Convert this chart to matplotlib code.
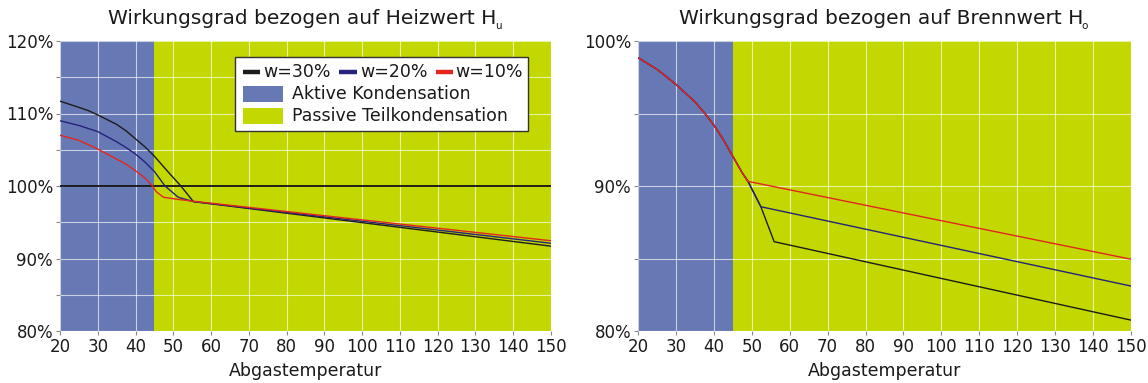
import matplotlib
matplotlib.use("Agg")
import matplotlib.pyplot as plt
from matplotlib.patches import Rectangle
from matplotlib.lines import Line2D
from matplotlib.ticker import MultipleLocator, FuncFormatter
from matplotlib.transforms import offset_copy

# --- data -------------------------------------------------------------
# efficiency related to the net calorific value (Heizwert Hu), in %
hu_t30 = [20, 25, 27.5, 30, 35, 37.5, 40, 42.5, 45, 48.7, 52.0, 55.3, 150]
hu_w30 = [111.7, 110.85, 110.4, 109.8, 108.5, 107.6, 106.5, 105.4, 104.1,
          101.9, 100.0, 97.85, 91.7]
hu_t20 = [20, 25, 30, 35, 37.5, 40, 42.5, 45, 47.8, 51.3, 55.3, 150]
hu_w20 = [109.0, 108.35, 107.5, 106.1, 105.3, 104.4, 103.3, 102.0, 100.0,
          98.45, 97.85, 92.1]
hu_t10 = [20, 25, 30, 35, 37.5, 40, 42.5, 44.5, 45.5, 47.4, 51.3, 55.3, 150]
hu_w10 = [107.0, 106.3, 105.1, 103.7, 103.0, 102.1, 101.1, 100.0, 99.2,
          98.45, 98.15, 97.9, 92.45]

# efficiency related to the gross calorific value (Brennwert Ho), in %
ho_t10 = [20, 25, 30, 35, 37.5, 40, 42.5, 45, 47.5, 49.0, 150]
ho_w10 = [98.85, 98.05, 97.01, 95.81, 95.05, 94.2, 93.2, 92.05, 90.9, 90.32, 84.95]
ho_t20 = [20, 25, 30, 35, 37.5, 40, 42.5, 45, 47.5, 49.0, 52.4, 150]
ho_w20 = [98.85, 98.05, 97.01, 95.81, 95.05, 94.2, 93.2, 92.05, 90.9, 90.32,
          88.57, 83.1]
ho_t30 = [20, 25, 30, 35, 37.5, 40, 42.5, 45, 47.5, 49.0, 52.4, 55.9, 150]
ho_w30 = [98.85, 98.05, 97.01, 95.81, 95.05, 94.2, 93.2, 92.05, 90.9, 90.32,
          88.57, 86.16, 80.75]

series_labels = ["w=30%", "w=20%", "w=10%"]
zone_edges = [20, 45, 150]          # active condensation | passive partial condensation
zone_labels = ["Aktive Kondensation", "Passive Teilkondensation"]
reference_level = 100

x_ticks = list(range(20, 151, 10))

# --- style ------------------------------------------------------------
plt.rcParams["font.family"] = ["DejaVu Sans"]

c_active = "#6679b4"
c_passive = "#c2d800"
c_series = ["#1c1c1c", "#25237a", "#e3261e"]
grid_col = "#ffffff"
text_col = "#1a1a1a"

W, H = 1148, 383
fig = plt.figure(figsize=(W / 100, H / 100), dpi=100)


def px_axes(x0, x1, y0, y1):
    return fig.add_axes([x0 / W, 1 - y1 / H, (x1 - x0) / W, (y1 - y0) / H])


def style_axes(ax, ylim, title, sub):
    ax.set_xlim(zone_edges[0], zone_edges[-1])
    ax.set_ylim(*ylim)
    ax.axvspan(zone_edges[0], zone_edges[1], color=c_active, lw=0, zorder=0)
    ax.axvspan(zone_edges[1], zone_edges[2], color=c_passive, lw=0, zorder=0)
    ax.set_xticks(x_ticks)
    ax.yaxis.set_major_locator(MultipleLocator(10))
    ax.yaxis.set_minor_locator(MultipleLocator(5))
    ax.yaxis.set_major_formatter(FuncFormatter(lambda v, p: f"{v:.0f}%"))
    ax.grid(True, which="both", color=grid_col, lw=0.8, alpha=0.65, zorder=1)
    ax.set_axisbelow(False)
    for s in ax.spines.values():
        s.set_visible(False)
    ax.tick_params(which="both", length=3, width=0.8, color="#888888",
                   labelsize=12, pad=2, labelcolor=text_col)
    ax.set_xlabel("Abgastemperatur", fontsize=12.5, labelpad=4, color=text_col)
    # title text with a small subscript letter right after the final "H"
    t = ax.text(0.493, 1.0, title,
                transform=offset_copy(ax.transAxes, fig=fig, x=0, y=12, units="points"),
                fontsize=14.5, ha="center", va="baseline", color=text_col)
    ax.annotate(sub, xy=(1, 0), xycoords=t, xytext=(-1.0, -0.5),
                textcoords="offset points", fontsize=7.5, color=text_col,
                ha="left", va="baseline")


# --- left panel: Heizwert -------------------------------------------
ax1 = px_axes(60, 551, 41, 331)
style_axes(ax1, (80, 120), "Wirkungsgrad bezogen auf Heizwert H", "u")
ax1.axhline(reference_level, color="#111111", lw=1.3, zorder=3)
for t, w, c in zip([hu_t30, hu_t20, hu_t10], [hu_w30, hu_w20, hu_w10], c_series):
    ax1.plot(t, w, color=c, lw=1.0, zorder=4, solid_joinstyle="round")

# legend box drawn in axes coordinates
tr = ax1.transAxes
ax1.add_patch(Rectangle((0.356, 0.690), 0.597, 0.255, transform=tr,
                        facecolor="white", edgecolor="#333333", lw=1.0, zorder=6))
row1_y = 0.894
for (hx0, hx1, tx), c, lab in zip([(0.373, 0.407, 0.413), (0.568, 0.605, 0.611),
                                   (0.766, 0.800, 0.806)], c_series, series_labels):
    ax1.add_line(Line2D([hx0, hx1], [row1_y, row1_y], transform=tr, color=c,
                        lw=3.2, solid_capstyle="butt", zorder=7))
    ax1.text(tx, row1_y, lab, transform=tr, fontsize=12.5, va="center",
             ha="left", color=text_col, zorder=7)
for (py0, py1), c, lab in zip([(0.790, 0.845), (0.714, 0.769)],
                              [c_active, c_passive], zone_labels):
    ax1.add_patch(Rectangle((0.373, py0), 0.081, py1 - py0, transform=tr,
                            facecolor=c, lw=0, zorder=7))
    ax1.text(0.4725, (py0 + py1) / 2, lab, transform=tr, fontsize=12.5,
             va="center", ha="left", color=text_col, zorder=7)

# --- right panel: Brennwert -----------------------------------------
ax2 = px_axes(638, 1131, 41, 331)
style_axes(ax2, (80, 100), "Wirkungsgrad bezogen auf Brennwert H", "o")
for t, w, c in zip([ho_t30, ho_t20, ho_t10], [ho_w30, ho_w20, ho_w10], c_series):
    ax2.plot(t, w, color=c, lw=1.0, zorder=4, solid_joinstyle="round")

fig.savefig("out.png", dpi=100)
